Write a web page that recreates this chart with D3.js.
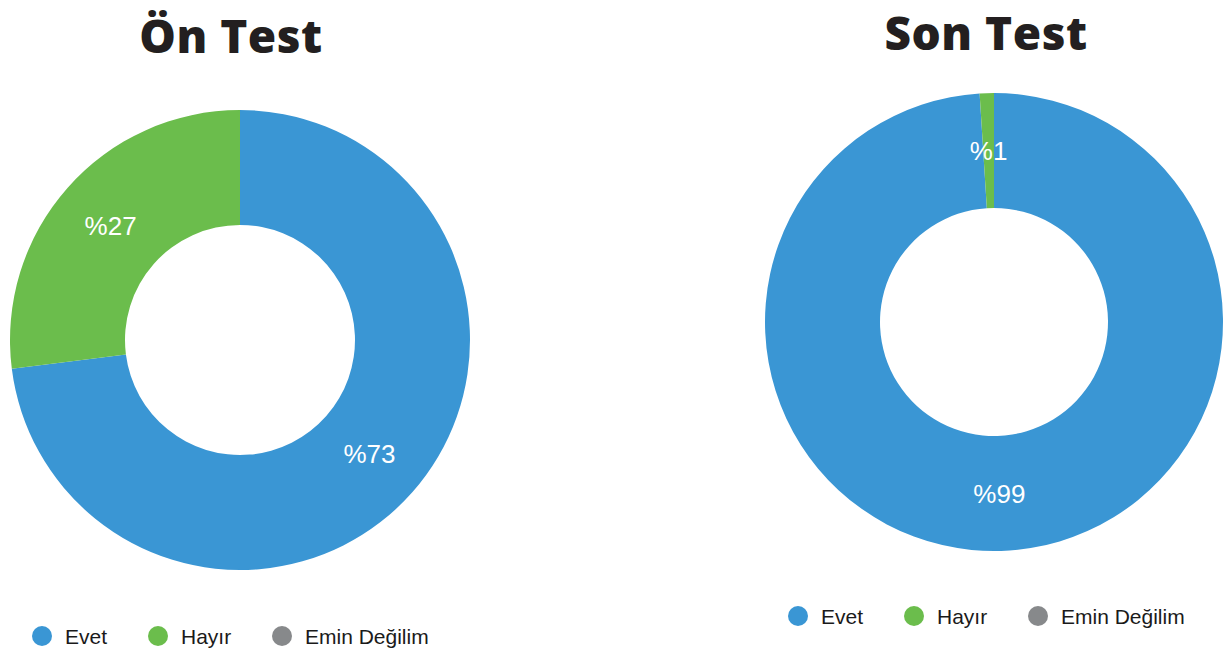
<!DOCTYPE html>
<html>
<head>
<meta charset="utf-8">
<script src="https://cdn.jsdelivr.net/npm/d3@7"></script>
<style>
  body { margin: 0; background: #fff; }
  .title { font-family: "Open Sans", sans-serif; font-weight: 800; fill: #231f20; }
  .lbl { font-family: "Liberation Sans", Arial, sans-serif; fill: #fff; }
  .leg { font-family: "Liberation Sans", Arial, sans-serif; fill: #1a1a1a; }
</style>
</head>
<body>
<svg id="chart"></svg>
<script>
(function () {
    const categories = ['Evet', 'Hayır', 'Emin Değilim'];
    const colors = ['#3a96d4', '#6bbd4c', '#87898b'];
    const onTest = [73, 27, 0];
    const sonTest = [99, 1, 0];
    const titles = ['Ön Test', 'Son Test'];

    const width = 1226;
    const height = 657;

    const svg = d3.select('#chart')
        .attr('width', width)
        .attr('height', height);

    const color = d3.scaleOrdinal()
        .domain(categories)
        .range(colors);

    const pie = d3.pie()
        .sort(null)
        .value(d => d.value);

    const charts = [
        { title: titles[0], values: onTest, cx: 240, cy: 340, r: 230, ri: 115, ty: 53, tx: 231, ly: 636, lx: 42 },
        { title: titles[1], values: sonTest, cx: 994, cy: 322, r: 229, ri: 114, ty: 50, tx: 986, ly: 616, lx: 798 }
    ];

    const legendOffsets = [0, 116, 240];

    charts.forEach(c => {
        const data = categories.map((k, i) => ({ key: k, value: c.values[i] }));
        const arc = d3.arc().innerRadius(c.ri).outerRadius(c.r);
        const labelArc = d3.arc().innerRadius((c.r + c.ri) / 2).outerRadius((c.r + c.ri) / 2);

        svg.append('text')
            .attr('class', 'title')
            .attr('x', c.tx)
            .attr('y', c.ty)
            .attr('text-anchor', 'middle')
            .style('font-size', '46px')
            .style('letter-spacing', '0.5px')
            .text(c.title);

        const g = svg.append('g')
            .attr('transform', `translate(${c.cx},${c.cy})`);

        const arcs = pie(data).filter(d => d.value > 0);

        g.selectAll('path')
            .data(arcs)
            .join('path')
            .attr('d', arc)
            .attr('fill', d => color(d.data.key));

        g.selectAll('text')
            .data(arcs)
            .join('text')
            .attr('class', 'lbl')
            .attr('transform', d => `translate(${labelArc.centroid(d)})`)
            .attr('text-anchor', 'middle')
            .attr('dy', '0.36em')
            .style('font-size', '26px')
            .text(d => '%' + d.value);

        const leg = svg.append('g')
            .attr('transform', `translate(${c.lx},${c.ly})`);

        const items = leg.selectAll('g')
            .data(categories)
            .join('g')
            .attr('transform', (d, i) => `translate(${legendOffsets[i]},0)`);

        items.append('circle')
            .attr('r', 10)
            .attr('fill', d => color(d));

        items.append('text')
            .attr('class', 'leg')
            .attr('x', 23)
            .attr('dy', '0.36em')
            .style('font-size', '21px')
            .text(d => d);
    });
})();
</script>
</body>
</html>
